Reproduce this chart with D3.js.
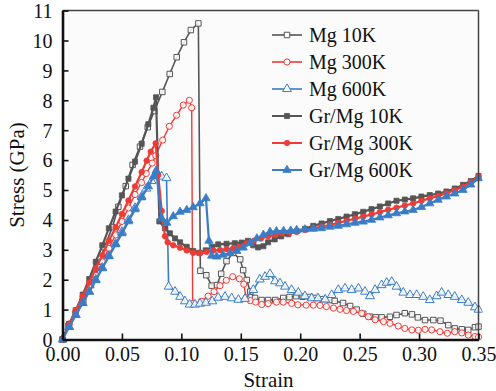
<!DOCTYPE html>
<html>
<head>
<meta charset="utf-8">
<script src="https://cdn.jsdelivr.net/npm/d3@7/dist/d3.min.js"></script>
<style>
  html, body { margin: 0; padding: 0; background: #ffffff; }
  svg { display: block; }
</style>
</head>
<body>
<svg id="chart" width="496" height="391"></svg>
<script>
// Stress–strain curves: [strain, stress (GPa)]
const mg10K = [[0,0],[0.005,0.46],[0.011,0.85],[0.0175,1.3],[0.024,1.82],[0.0296,2.42],[0.0352,3.09],[0.042,3.76],[0.047,4.44],[0.0532,5.13],[0.059,5.84],[0.0652,6.45],[0.0717,7.1],[0.0773,7.64],[0.084,8.28],[0.0902,8.88],[0.0961,9.44],[0.1022,9.94],[0.108,10.35],[0.1143,10.57],
  [0.116,2.3],[0.121,2.15],[0.1255,1.8],[0.13,1.82],[0.1335,2.2],[0.138,2.62],[0.1435,2.9],[0.1495,2.68],[0.152,2.32],[0.155,1.99],[0.158,1.6],[0.162,1.39],[0.1675,1.32],[0.173,1.32],[0.179,1.32],[0.1857,1.39],[0.191,1.42],[0.1965,1.45],[0.202,1.43],[0.208,1.42],[0.213,1.39],[0.219,1.35],[0.225,1.32],[0.229,1.29],[0.236,1.22],[0.242,1.12],[0.2475,1.0],[0.253,0.86],[0.2587,0.76],[0.2635,0.74],[0.2685,0.74],[0.2755,0.76],[0.281,0.82],[0.288,0.88],[0.294,0.84],[0.299,0.74],[0.305,0.65],[0.312,0.65],[0.318,0.63],[0.3246,0.48],[0.33,0.37],[0.336,0.34],[0.3414,0.32],[0.347,0.41],[0.35,0.43]];

const mg300K = [[0,0],[0.0056,0.52],[0.0112,0.95],[0.017,1.35],[0.0225,1.75],[0.028,2.15],[0.0335,2.6],[0.039,3.05],[0.0447,3.5],[0.05,3.95],[0.0555,4.4],[0.061,4.85],[0.0665,5.25],[0.0705,5.55],[0.0755,5.9],[0.0784,6.15],[0.0843,6.67],[0.0899,7.13],[0.096,7.5],[0.1016,7.84],[0.1067,8.0],[0.1087,7.75],
  [0.1095,1.2],[0.117,1.28],[0.1225,1.45],[0.1275,1.6],[0.1325,1.8],[0.1378,1.98],[0.1432,2.1],[0.1488,2.03],[0.1525,1.85],[0.1545,1.4],[0.158,1.3],[0.1625,1.25],[0.1676,1.17],[0.173,1.2],[0.18,1.25],[0.1857,1.25],[0.1928,1.21],[0.198,1.16],[0.205,1.15],[0.211,1.15],[0.2167,1.14],[0.222,1.1],[0.228,1.05],[0.2335,1.01],[0.239,0.97],[0.2447,0.94],[0.2517,0.88],[0.2573,0.76],[0.263,0.66],[0.27,0.6],[0.2755,0.54],[0.2825,0.45],[0.288,0.37],[0.294,0.32],[0.2994,0.31],[0.305,0.34],[0.3106,0.32],[0.3176,0.26],[0.3238,0.21],[0.33,0.26],[0.3359,0.22],[0.3414,0.15],[0.347,0.1],[0.35,0.08]];

const mg600K = [[0,0],[0.0056,0.42],[0.0112,0.82],[0.017,1.22],[0.0225,1.6],[0.028,2.0],[0.0335,2.4],[0.039,2.8],[0.0447,3.2],[0.05,3.6],[0.0555,4.0],[0.061,4.4],[0.0665,4.78],[0.0705,5.05],[0.075,5.3],[0.079,5.58],[0.0835,5.45],[0.0875,5.4],
  [0.0893,1.77],[0.0947,1.6],[0.099,1.43],[0.103,1.28],[0.107,1.17],[0.1115,1.17],[0.1157,1.2],[0.1207,1.23],[0.126,1.28],[0.131,1.4],[0.1367,1.43],[0.1423,1.38],[0.148,1.33],[0.1535,1.36],[0.1605,1.66],[0.166,2.01],[0.1704,2.1],[0.1746,2.19],[0.1788,1.95],[0.183,1.88],[0.1872,1.77],[0.1928,1.66],[0.1984,1.57],[0.204,1.45],[0.2097,1.38],[0.215,1.38],[0.221,1.34],[0.2265,1.49],[0.232,1.66],[0.2377,1.71],[0.2433,1.66],[0.249,1.71],[0.2545,1.6],[0.2587,1.45],[0.263,1.66],[0.2685,1.82],[0.2727,1.9],[0.277,1.93],[0.281,1.77],[0.2867,1.57],[0.2924,1.49],[0.298,1.49],[0.3035,1.43],[0.309,1.32],[0.3148,1.45],[0.319,1.57],[0.3246,1.49],[0.33,1.43],[0.3359,1.32],[0.3414,1.23],[0.347,1.08],[0.35,1.0]];

const grMg10K = [[0,0],[0.0056,0.52],[0.0112,0.98],[0.017,1.5],[0.0225,2.02],[0.028,2.6],[0.0335,3.15],[0.039,3.72],[0.0447,4.28],[0.05,4.82],[0.0555,5.38],[0.061,5.95],[0.0666,6.55],[0.0722,7.2],[0.0765,7.75],[0.0787,8.1],
  [0.0815,3.95],[0.0862,3.72],[0.0904,3.55],[0.0947,3.38],[0.0989,3.25],[0.1045,3.1],[0.11,2.96],[0.1151,2.9],[0.1205,2.98],[0.126,3.1],[0.131,3.18],[0.138,3.2],[0.145,3.22],[0.1508,3.24],[0.156,3.3],[0.1605,3.15],[0.1645,3.08],[0.169,3.12],[0.173,3.25],[0.1785,3.35],[0.184,3.45],[0.19,3.52],[0.197,3.62],[0.204,3.7],[0.211,3.8],[0.218,3.88],[0.225,3.96],[0.232,4.03],[0.239,4.11],[0.246,4.19],[0.253,4.27],[0.26,4.36],[0.267,4.45],[0.274,4.55],[0.281,4.64],[0.288,4.68],[0.295,4.72],[0.302,4.78],[0.309,4.83],[0.316,4.88],[0.323,4.95],[0.33,5.05],[0.337,5.17],[0.3435,5.3],[0.35,5.47]];

const grMg300K = [[0,0],[0.0056,0.5],[0.0112,0.97],[0.017,1.45],[0.0225,1.9],[0.028,2.38],[0.0335,2.82],[0.039,3.3],[0.0447,3.75],[0.05,4.2],[0.0555,4.65],[0.061,5.12],[0.0666,5.6],[0.0708,5.98],[0.0742,6.28],[0.0784,6.56],
  [0.0805,5.5],[0.0835,4.3],[0.0862,3.45],[0.0885,3.25],[0.0932,3.15],[0.0989,3.07],[0.1045,2.98],[0.11,2.9],[0.1157,2.88],[0.1213,2.93],[0.127,2.98],[0.1325,2.99],[0.138,3.02],[0.1437,3.05],[0.149,3.1],[0.155,3.22],[0.161,3.3],[0.167,3.38],[0.173,3.45],[0.179,3.5],[0.185,3.55],[0.191,3.58],[0.197,3.6],[0.204,3.66],[0.211,3.72],[0.218,3.78],[0.225,3.83],[0.232,3.9],[0.239,3.97],[0.246,4.04],[0.253,4.11],[0.26,4.18],[0.267,4.26],[0.274,4.34],[0.281,4.41],[0.288,4.48],[0.295,4.55],[0.302,4.64],[0.309,4.72],[0.316,4.8],[0.323,4.89],[0.33,4.99],[0.337,5.11],[0.3435,5.27],[0.35,5.45]];

const grMg600K = [[0,0],[0.0056,0.42],[0.0112,0.82],[0.017,1.22],[0.0225,1.6],[0.028,1.98],[0.0335,2.38],[0.039,2.78],[0.0447,3.18],[0.05,3.55],[0.0555,3.95],[0.061,4.35],[0.0666,4.75],[0.0722,5.12],[0.0765,5.45],[0.0788,5.65],
  [0.0834,4.05],[0.0877,3.9],[0.0932,4.12],[0.0989,4.27],[0.1045,4.33],[0.11,4.42],[0.1157,4.55],[0.1207,4.72],[0.1232,3.3],[0.1255,2.8],[0.1297,2.77],[0.135,2.83],[0.141,2.88],[0.1466,2.96],[0.152,3.07],[0.1578,3.22],[0.1635,3.38],[0.169,3.5],[0.1746,3.6],[0.18,3.62],[0.186,3.63],[0.192,3.64],[0.197,3.66],[0.204,3.68],[0.211,3.7],[0.218,3.72],[0.225,3.77],[0.232,3.8],[0.239,3.85],[0.246,3.9],[0.253,3.94],[0.26,4.0],[0.267,4.08],[0.274,4.15],[0.281,4.22],[0.288,4.28],[0.295,4.33],[0.302,4.43],[0.309,4.55],[0.316,4.67],[0.323,4.78],[0.33,4.88],[0.337,5.0],[0.3435,5.18],[0.35,5.39]];

const seriesNames = ["Mg 10K", "Mg 300K", "Mg 600K", "Gr/Mg 10K", "Gr/Mg 300K", "Gr/Mg 600K"];
const seriesData = [mg10K, mg300K, mg600K, grMg10K, grMg300K, grMg600K];
const xTicks = [0, 0.05, 0.10, 0.15, 0.20, 0.25, 0.30, 0.35];
const yTicks = [0, 1, 2, 3, 4, 5, 6, 7, 8, 9, 10, 11];

const FONT = "'Liberation Serif', Tinos, 'Times New Roman', Times, 'DejaVu Serif', serif";
const GRAY = "#555555", RED = "#ee3b36", BLUE = "#3a7dc6";
const styles = [
  { color: GRAY, shape: "square",   filled: false, width: 1.6 },
  { color: RED,  shape: "circle",   filled: false, width: 1.4 },
  { color: BLUE, shape: "triangle", filled: false, width: 1.6 },
  { color: GRAY, shape: "square",   filled: true,  width: 2.2 },
  { color: RED,  shape: "circle",   filled: true,  width: 2.2 },
  { color: BLUE, shape: "triangle", filled: true,  width: 2.2 }
];

const svg = d3.select("#chart");
const W = 496, H = 391;
const margin = { left: 62.5, right: 17.5, top: 10.6, bottom: 51.5 };
const x = d3.scaleLinear().domain([0, 0.35]).range([margin.left, W - margin.right]);
const y = d3.scaleLinear().domain([0, 11]).range([H - margin.bottom, margin.top]);

svg.append("rect").attr("x", 0).attr("y", 0).attr("width", W).attr("height", H).attr("fill", "#ffffff");
svg.append("rect").attr("x", x(0)).attr("y", y(11)).attr("width", x(0.35) - x(0)).attr("height", y(0) - y(11)).attr("fill", "#fbfbfb");

svg.append("clipPath").attr("id", "plotclip").append("rect")
  .attr("x", x(0) - 4).attr("y", y(11)).attr("width", x(0.35) - x(0) + 8).attr("height", y(0) - y(11) + 4);

function symbolPath(shape, filled) {
  if (shape === "square") return d3.symbol(d3.symbolSquare, filled ? 26 : 30)();
  if (shape === "circle") return d3.symbol(d3.symbolCircle, filled ? 24 : 30)();
  return d3.symbol(d3.symbolTriangle, filled ? 30 : 34)();
}

const line = d3.line().x(d => x(d[0])).y(d => y(d[1]));
const plot = svg.append("g").attr("clip-path", "url(#plotclip)");

seriesData.forEach((data, i) => {
  const st = styles[i];
  const g = plot.append("g");
  g.append("path").datum(data).attr("d", line).attr("fill", "none")
    .attr("stroke", st.color).attr("stroke-width", st.width).attr("stroke-linejoin", "round");
  const p = symbolPath(st.shape, st.filled);
  g.selectAll("path.m").data(data).join("path").attr("class", "m")
    .attr("d", p)
    .attr("transform", d => `translate(${x(d[0])},${y(d[1])})`)
    .attr("fill", st.filled ? st.color : "#ffffff")
    .attr("fill-opacity", st.filled ? 1 : 0.85)
    .attr("stroke", st.color).attr("stroke-width", st.filled ? 0.8 : 1);
});

// Frame: thin top/right, heavy left/bottom
svg.append("line").attr("x1", x(0)).attr("x2", x(0.35)).attr("y1", y(11)).attr("y2", y(11)).attr("stroke", "#444").attr("stroke-width", 1.5);
svg.append("line").attr("x1", x(0.35)).attr("x2", x(0.35)).attr("y1", y(11)).attr("y2", y(0)).attr("stroke", "#444").attr("stroke-width", 1.5);

const xAxis = d3.axisBottom(x).tickValues(xTicks).tickFormat(d3.format(".2f")).tickSizeInner(-6).tickSizeOuter(0).tickPadding(7);
const yAxis = d3.axisLeft(y).tickValues(yTicks).tickFormat(d3.format("d")).tickSizeInner(-6).tickSizeOuter(0).tickPadding(10);

const gx = svg.append("g").attr("transform", `translate(0,${y(0)})`).call(xAxis);
const gy = svg.append("g").attr("transform", `translate(${x(0)},0)`).call(yAxis);
[gx, gy].forEach(g => {
  g.attr("font-family", null).attr("font-size", null);
  g.select(".domain").attr("stroke", "#111").attr("stroke-width", 2.6);
  g.selectAll(".tick line").attr("stroke", "#111").attr("stroke-width", 1.6);
  g.selectAll(".tick text").style("font-family", FONT).style("font-size", "20px").attr("fill", "#111");
});
gy.selectAll(".tick text").attr("dy", "0.34em");

svg.append("text").attr("x", x(0.175) - 2).attr("y", 387).attr("text-anchor", "middle")
  .style("font-family", FONT).style("font-size", "21px").attr("fill", "#111").text("Strain");
svg.append("text").attr("transform", `translate(24,${y(5.5)}) rotate(-90)`).attr("text-anchor", "middle")
  .style("font-family", FONT).style("font-size", "21px").attr("fill", "#111").text("Stress (GPa)");

// Legend
const legend = svg.append("g");
seriesNames.forEach((name, i) => {
  const st = styles[i];
  const ly = 35 + i * 27;
  const row = legend.append("g");
  row.append("line").attr("x1", 272).attr("x2", 302).attr("y1", ly).attr("y2", ly)
    .attr("stroke", st.color).attr("stroke-width", st.filled ? 2 : 1.6);
  row.append("path").attr("d", symbolPath(st.shape, st.filled)).attr("transform", `translate(287,${ly})`)
    .attr("fill", st.filled ? st.color : "#ffffff").attr("stroke", st.color).attr("stroke-width", st.filled ? 0.8 : 1);
  row.append("text").attr("x", 309).attr("y", ly).attr("dy", "0.35em")
    .style("font-family", FONT).style("font-size", "20px").attr("fill", "#111").text(name);
});
</script>
</body>
</html>
